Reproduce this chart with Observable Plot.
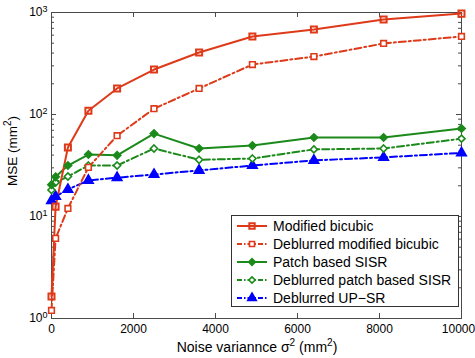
<!DOCTYPE html>
<html><head><meta charset="utf-8">
<script src="https://cdn.jsdelivr.net/npm/d3@7"></script>
<script src="https://cdn.jsdelivr.net/npm/@observablehq/plot@0.6"></script>
<style>
body{margin:0;background:#fff;font-family:"Liberation Sans",Arial,sans-serif;}
#wrap{position:relative;width:475px;height:358px;overflow:hidden;}
#legend{position:absolute;left:231px;top:215px;width:228px;height:92px;border:1px solid #333;background:#fff;box-sizing:border-box;padding-top:1px;}
.row{height:18px;display:flex;align-items:center;font-size:14px;color:#000;white-space:nowrap;}
.row svg{width:40px;height:18px;margin-left:1px;margin-right:0px;flex:none;}
</style>
</head><body>
<div id="wrap"><div id="chart"></div><div id="legend"></div></div>
<script>
// ---- data ----
const noiseVar = [0, 100, 400, 900, 1600, 2500, 3600, 4900, 6400, 8100, 10000];
const modifiedBicubic = [1.64, 12.5, 47.5, 109, 180, 276, 405, 582, 681, 853, 975];
const deblurredModifiedBicubic = [1.2, 6.1, 12.0, 30.3, 62, 114, 180, 309, 370, 497, 582];
const patchSISR = [20.5, 24.5, 31.6, 40.5, 39.8, 65, 46.4, 49.6, 59.5, 59.5, 73];
const deblurredPatchSISR = [18.2, 21.5, 24.7, 31.6, 31.6, 46.4, 36, 37, 45.5, 46.4, 58];
const deblurredUPSR = [14.3, 15.7, 18.4, 22.6, 24, 25.8, 28.3, 31.6, 35.5, 38, 42];
const seriesNames = ["Modified bicubic", "Deblurred modified bicubic", "Patch based SISR", "Deblurred patch based SISR", "Deblurred UP\u2212SR"];
const xTicks = [0, 2000, 4000, 6000, 8000, 10000];
const yMajor = [1, 10, 100, 1000];

// ---- styles ----
const RED = "#de3a1a", GREEN = "#1b8a1b", BLUE = "#0000ff";
const styles = [
  {color: RED, dash: null, symbol: "square", fill: "none", sw: 2, r: 3.4},
  {color: RED, dash: "7,3,2,3", symbol: "square", fill: "white", sw: 1.6, r: 3.2},
  {color: GREEN, dash: null, symbol: "diamond2", fill: GREEN, sw: 1.5, r: 3.4},
  {color: GREEN, dash: "7,3,2,3", symbol: "diamond2", fill: "white", sw: 1.6, r: 3.2},
  {color: BLUE, dash: "7,3,2,3", symbol: "triangle", fill: BLUE, sw: 1.5, r: 3.6}
];
const allValues = [modifiedBicubic, deblurredModifiedBicubic, patchSISR, deblurredPatchSISR, deblurredUPSR];
const tables = allValues.map((vals, i) => noiseVar.map((x, j) => ({x, y: vals[j], s: seriesNames[i]})));

const W = 475, H = 358, mL = 51, mR = 14, mT = 12, mB = 40;
const pH = H - mT - mB, pW = W - mL - mR;
const yMinor = [];
for (const d of [1, 10, 100]) for (let k = 2; k <= 9; k++) yMinor.push(d * k);

const AX = "#4a4a4a";
const marks = [
  Plot.frame({stroke: AX, strokeWidth: 1}),
  Plot.tickX(xTicks, {x: d => d, insetTop: pH - 5, stroke: AX}),
  Plot.tickX(xTicks, {x: d => d, insetBottom: pH - 5, stroke: AX}),
  Plot.tickY(yMajor, {y: d => d, insetRight: pW - 5, stroke: AX}),
  Plot.tickY(yMajor, {y: d => d, insetLeft: pW - 5, stroke: AX}),
  Plot.tickY(yMinor, {y: d => d, insetRight: pW - 3, stroke: AX}),
  Plot.tickY(yMinor, {y: d => d, insetLeft: pW - 3, stroke: AX})
];
[4, 3, 2, 1, 0].forEach(i => {
  const st = styles[i];
  marks.push(Plot.line(tables[i], {x: "x", y: "y", stroke: st.color, strokeWidth: 2, strokeDasharray: st.dash, strokeLinejoin: "round"}));
});
[4, 3, 2, 1, 0].forEach(i => {
  const st = styles[i];
  marks.push(Plot.dot(tables[i], {x: "x", y: "y", symbol: () => st.symbol, r: st.r, stroke: st.color, fill: st.fill, strokeWidth: st.sw}));
});
marks.push(Plot.axisX({ticks: xTicks, tickSize: 0, tickPadding: 6, label: null, fontSize: 12, tickFormat: d => String(d)}));
marks.push(Plot.axisY({ticks: yMajor, tickSize: 0, tickPadding: 4, label: null, fontSize: 12, tickFormat: d => "10^" + Math.round(Math.log10(d))}));

const chart = Plot.plot({
  width: W, height: H, marginLeft: mL, marginRight: mR, marginTop: mT, marginBottom: mB,
  style: {fontFamily: "'Liberation Sans', Arial, sans-serif", fontSize: "12px", color: "#000", background: "#fff", overflow: "visible"},
  x: {domain: [0, 10000]},
  y: {type: "log", domain: [1, 1000]},
  symbol: {type: "identity"},
  marks
});
document.getElementById("chart").appendChild(chart);

const svg = d3.select(chart);
// keep the last x tick label inside the picture
svg.selectAll('g[aria-label="x-axis tick label"] text').each(function() {
  if (d3.select(this).text() === "10000") d3.select(this).attr("dx", -3);
});
// superscript tick labels
svg.selectAll('g[aria-label="y-axis tick label"] text').each(function() {
  const t = d3.select(this);
  const [b, e] = t.text().split("^");
  t.text(null);
  t.append("tspan").text(b);
  t.append("tspan").attr("dy", "-0.45em").attr("font-size", "9px").text(e);
});
// axis titles
const xl = svg.append("text").attr("x", 257).attr("y", 352).attr("text-anchor", "middle")
  .attr("font-size", 14).attr("fill", "#000");
xl.append("tspan").text("Noise variannce \u03c3");
xl.append("tspan").attr("dy", -6).attr("font-size", 10).text("2");
xl.append("tspan").attr("dy", 6).text(" (mm");
xl.append("tspan").attr("dy", -6).attr("font-size", 10).text("2");
xl.append("tspan").attr("dy", 6).text(")");
const yl = svg.append("text").attr("transform", "translate(17,151) rotate(-90)").attr("text-anchor", "middle")
  .attr("font-size", 13.5).attr("fill", "#000");
yl.append("tspan").text("MSE (mm");
yl.append("tspan").attr("dy", -6).attr("font-size", 10).text("2");
yl.append("tspan").attr("dy", 6).text(")");

// legend
const legend = d3.select("#legend");
seriesNames.forEach((name, i) => {
  const st = styles[i];
  const row = legend.append("div").attr("class", "row");
  const s = row.append("svg").attr("viewBox", "0 0 40 18");
  s.append("line").attr("x1", 4).attr("x2", 34).attr("y1", 9).attr("y2", 9)
    .attr("stroke", st.color).attr("stroke-width", 2).attr("stroke-dasharray", st.dash ? "5,2,1.5,2" : null);
  const sym = d3.symbol().type({square: d3.symbolSquare, diamond2: d3.symbolDiamond2, triangle: d3.symbolTriangle}[st.symbol]).size(st.r * st.r * Math.PI * 0.8);
  s.append("path").attr("d", sym()).attr("transform", "translate(19,9)")
    .attr("fill", st.fill).attr("stroke", st.color).attr("stroke-width", st.sw);
  row.append("span").text(name);
});
</script>
</body></html>
